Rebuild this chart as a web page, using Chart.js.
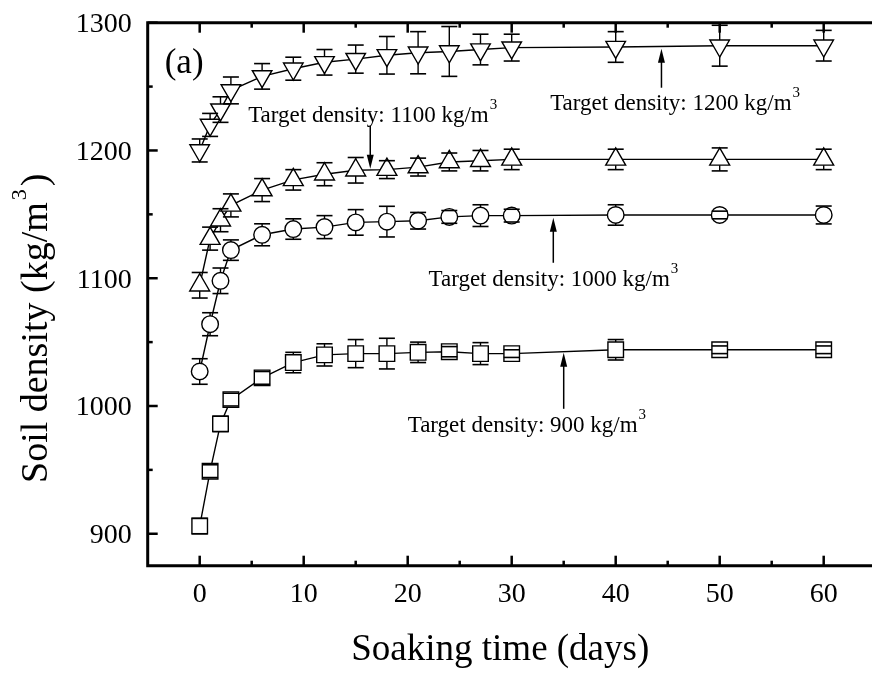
<!DOCTYPE html>
<html><head><meta charset="utf-8">
<script src="https://cdn.jsdelivr.net/npm/chart.js@4.4.1/dist/chart.umd.min.js"></script>
<style>
html,body{margin:0;padding:0;background:#fff;overflow:hidden;width:872px;height:675px;}
#wrap{position:relative;width:900px;height:675px;}
</style></head>
<body><div id="wrap"><canvas id="c" width="900" height="675"></canvas></div>
<script>
// ---- data ----
const days = [0,1,2,3,6,9,12,15,18,21,24,27,30,40,50,60];
const density900  = [906,949,986,1005,1022,1034,1040,1041,1041,1042,1042.5,1041,1041,1044,1044,1044];
const err900      = [6,5,6,5,5,8,8.7,11,12,8,4,8.6,3,8,3,3];
const density1000 = [1027,1064,1098,1122,1134,1138.5,1140,1143.7,1144.3,1145,1148,1149,1149,1149.5,1149.5,1149.5];
const err1000     = [10,9,10,8,8.6,8,9,10,12,6.5,5,8.5,5,8,3,7];
const density1100 = [1094.5,1131,1145.4,1157,1169,1177,1181.4,1184.5,1185,1187,1191,1192,1193,1193,1193,1193];
const err1100     = [10,9,9,9,9,8,9,10,7,7,7,8,8,8,9,8];
const density1200 = [1200,1220,1232,1247,1258,1264,1269,1271.5,1274.5,1276.5,1277.5,1279,1280.5,1281,1282,1282];
const err1200     = [9,9,10,10.5,10,9,10,11,14.7,16.5,19.5,12,10.5,12,16,12];

const xTicks = [0,10,20,30,40,50,60];
const xMinorTicks = [5,15,25,35,45,55];
const yTicks = [900,1000,1100,1200,1300];
const yMinorTicks = [950,1050,1150,1250];

const xTitle = 'Soaking time (days)';
const yTitle = 'Soil density (kg/m';
const panelLabel = '(a)';

// annotations, in data units
const notes = [
  {text:'Target density: 1100 kg/m', tx:4.66,  ty:1222.5, ax:16.4, from:1219.4, to:1185.7},
  {text:'Target density: 1200 kg/m', tx:33.7,  ty:1231.9, ax:44.4, from:1249.1, to:1279.7},
  {text:'Target density: 1000 kg/m', tx:22.0,  ty:1094.1, ax:34.0, from:1112.1, to:1147.4},
  {text:'Target density: 900 kg/m',  tx:20.0,  ty:979.8,  ax:35.0, from:997.8,  to:1041.7}
];

const FONT = '"Liberation Serif","Times New Roman",serif';

function pts(vals){ return days.map((d,i)=>({x:d,y:vals[i]})); }

const series = [
  {vals:density900,  err:err900,  style:'rect',     radius:11,  rot:0},
  {vals:density1000, err:err1000, style:'circle',   radius:8.3, rot:0},
  {vals:density1100, err:err1100, style:'triangle', radius:11.5,rot:0},
  {vals:density1200, err:err1200, style:'triangle', radius:11.3,rot:180}
];

const errorBars = {
  id:'errorBars',
  beforeDatasetsDraw(chart){
    const {ctx, scales:{x,y}} = chart;
    ctx.save();
    ctx.strokeStyle='#000'; ctx.lineWidth=1.4;
    series.forEach(s=>{
      s.vals.forEach((v,i)=>{
        const px = x.getPixelForValue(days[i]);
        ctx.beginPath();
        ctx.moveTo(px, y.getPixelForValue(v - s.err[i]));
        ctx.lineTo(px, y.getPixelForValue(v + s.err[i]));
        ctx.stroke();
      });
    });
    ctx.restore();
  },
  afterDatasetsDraw(chart){
    const {ctx, scales:{x,y}, chartArea:ca} = chart;
    ctx.save();
    ctx.strokeStyle='#000'; ctx.lineWidth=1.6;
    series.forEach(s=>{
      s.vals.forEach((v,i)=>{
        const px = x.getPixelForValue(days[i]);
        [v - s.err[i], v + s.err[i]].forEach(val=>{
          const py = y.getPixelForValue(val);
          ctx.beginPath(); ctx.moveTo(px-8, py); ctx.lineTo(px+8, py); ctx.stroke();
        });
      });
    });
    // frame: left, bottom, top
    ctx.lineWidth = 3; ctx.lineCap='square';
    ctx.beginPath();
    ctx.moveTo(ca.right+10, ca.top); ctx.lineTo(ca.left, ca.top);
    ctx.lineTo(ca.left, ca.bottom); ctx.lineTo(ca.right+10, ca.bottom);
    ctx.stroke();
    ctx.lineCap='butt';
    // ticks (inward)
    ctx.lineWidth = 2.5;
    const tick = (x1,y1,x2,y2)=>{ctx.beginPath();ctx.moveTo(x1,y1);ctx.lineTo(x2,y2);ctx.stroke();};
    xTicks.forEach(t=>{const p=x.getPixelForValue(t); tick(p,ca.bottom,p,ca.bottom-10); tick(p,ca.top,p,ca.top+10);});
    xMinorTicks.forEach(t=>{const p=x.getPixelForValue(t); tick(p,ca.bottom,p,ca.bottom-5); tick(p,ca.top,p,ca.top+5);});
    yTicks.forEach(t=>{const p=y.getPixelForValue(t); tick(ca.left,p,ca.left+10,p);});
    yMinorTicks.forEach(t=>{const p=y.getPixelForValue(t); tick(ca.left,p,ca.left+5,p);});
    // tick labels
    ctx.fillStyle='#000';
    ctx.font = '28px '+FONT;
    ctx.textAlign='center'; ctx.textBaseline='alphabetic';
    xTicks.forEach(t=>ctx.fillText(String(t), x.getPixelForValue(t), ca.bottom+36));
    ctx.textAlign='right';
    yTicks.forEach(t=>ctx.fillText(String(t), ca.left-16, y.getPixelForValue(t)+9.5));
    // axis titles
    ctx.font = '37px '+FONT;
    ctx.textAlign='center';
    ctx.fillText(xTitle, x.getPixelForValue(28.9), 660);
    ctx.save();
    ctx.translate(47, 483); ctx.rotate(-Math.PI/2);
    ctx.textAlign='left';
    ctx.font = '38px '+FONT;
    ctx.fillText(yTitle, 0, 0);
    let w = ctx.measureText(yTitle).width;
    ctx.font = '22px '+FONT;
    ctx.fillText('3', w+2, -21);
    const sw = ctx.measureText('3').width;
    ctx.font = '38px '+FONT;
    ctx.fillText(')', w+2+sw+3, 0);
    ctx.restore();
    // panel label
    ctx.font = '35px '+FONT; ctx.textAlign='left';
    ctx.fillText(panelLabel, ca.left+17, 73);
    // annotations
    notes.forEach(n=>{
      ctx.font = '23px '+FONT; ctx.textAlign='left';
      const tx = x.getPixelForValue(n.tx), ty = y.getPixelForValue(n.ty);
      ctx.fillText(n.text, tx, ty);
      const tw = ctx.measureText(n.text).width;
      ctx.font = '15px '+FONT;
      ctx.fillText('3', tx+tw+1, ty-13);
      const ax = x.getPixelForValue(n.ax), y1 = y.getPixelForValue(n.from), y2 = y.getPixelForValue(n.to);
      const dir = Math.sign(y2-y1);
      ctx.lineWidth = 1.5;
      ctx.beginPath(); ctx.moveTo(ax,y1); ctx.lineTo(ax,y2-dir*10); ctx.stroke();
      ctx.beginPath(); ctx.moveTo(ax,y2); ctx.lineTo(ax-3.5,y2-dir*14); ctx.lineTo(ax+3.5,y2-dir*14); ctx.closePath(); ctx.fill();
    });
    ctx.restore();
  }
};

new Chart(document.getElementById('c'), {
  type:'line',
  data:{
    datasets: series.map(s=>({
      data: pts(s.vals),
      borderColor:'#000', borderWidth:1.4, tension:0,
      pointStyle:s.style, pointRadius:s.radius, pointRotation:s.rot,
      pointBackgroundColor:'#fff', pointBorderColor:'#000', pointBorderWidth:1.4,
      pointHoverRadius:s.radius, fill:false
    }))
  },
  options:{
    responsive:false, animation:false, devicePixelRatio:1,
    layout:{padding:{left:147.7, right:24.3, top:22.7, bottom:109.3}},
    plugins:{legend:{display:false}, tooltip:{enabled:false}},
    scales:{
      x:{type:'linear', min:-5, max:65, display:false},
      y:{type:'linear', min:875, max:1300, display:false}
    }
  },
  plugins:[errorBars]
});
</script>
</body></html>
